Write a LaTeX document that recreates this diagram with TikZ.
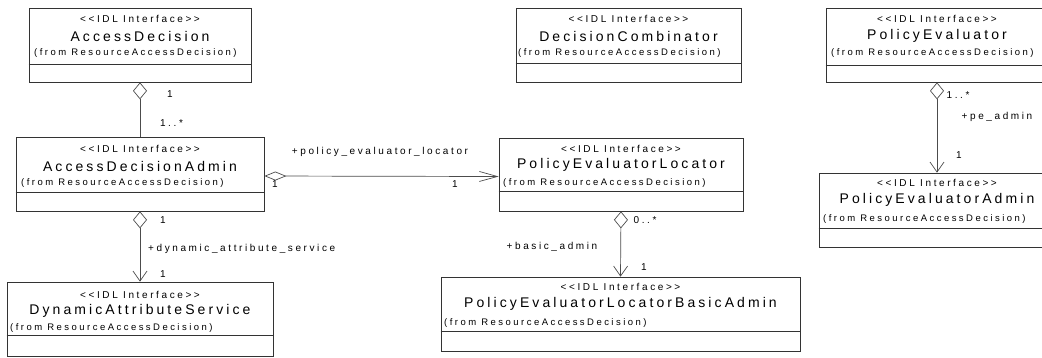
\documentclass[tikz,border=0pt]{standalone}
\usepackage{fontspec}
\newfontfamily\umlfont{Liberation Sans}[LetterSpace=26]
\newfontfamily\umlnamefont{Liberation Sans}[LetterSpace=22]
\usetikzlibrary{arrows.meta}

\tikzset{
  classbox/.style={draw=black!80, line width=0.7pt, inner sep=0pt},
  divider/.style={draw=black!80, line width=0.7pt},
  stereo/.style={inner sep=0pt, font=\umlfont\fontsize{10}{12}\selectfont},
  cname/.style={inner sep=0pt, font=\umlnamefont\fontsize{14}{16}\selectfont},
  fromtxt/.style={inner sep=0pt, anchor=west, font=\umlfont\fontsize{9.5}{11}\selectfont},
  lbl/.style={inner sep=0pt, font=\umlfont\fontsize{10}{12}\selectfont},
  aggline/.style={draw=black!70, line width=0.7pt, {Diamond[open,length=17pt,width=14pt]}-},
  aggv/.style={draw=black!70, line width=0.7pt, {Diamond[open,length=17pt,width=14pt]}-{Straight Barb[length=10pt,width=14pt]}},
  aggh/.style={draw=black!70, line width=0.7pt, {Diamond[open,length=22pt,width=9pt]}-{Straight Barb[length=18pt,width=10pt]}}
}

\begin{document}
\begin{tikzpicture}[x=1pt, y=-1pt]
  \useasboundingbox (0,0) rectangle (1042,357);
  \clip (0,0) rectangle (1042,357);

  % Top row
  \node[classbox, minimum width=222pt, minimum height=74pt] (ad) at (140,45) {};
  \draw[divider] (ad.west |- 0,64) -- (ad.east |- 0,64);
  \node[stereo] (ad-s) at (140,19) {<<IDL Interface>>};
  \node[cname] (ad-n) at (140,36) {AccessDecision};
  \node[fromtxt] (ad-f) at (34,53) {(from ResourceAccessDecision)};

  \node[classbox, minimum width=225pt, minimum height=74pt] (dc) at (628.5,45) {};
  \draw[divider] (dc.west |- 0,63) -- (dc.east |- 0,63);
  \node[stereo] (dc-s) at (628.5,19) {<<IDL Interface>>};
  \node[cname] (dc-n) at (628.5,36) {DecisionCombinator};
  \node[fromtxt] (dc-f) at (518,53) {(from ResourceAccessDecision)};

  \node[classbox, minimum width=222pt, minimum height=74pt] (pe) at (937,45) {};
  \draw[divider] (pe.west |- 0,65) -- (pe.east |- 0,65);
  \node[stereo] (pe-s) at (937,19) {<<IDL Interface>>};
  \node[cname] (pe-n) at (937,36) {PolicyEvaluator};
  \node[fromtxt] (pe-f) at (831,53) {(from ResourceAccessDecision)};

  % Middle row
  \node[classbox, minimum width=248pt, minimum height=74pt] (ada) at (140,174) {};
  \draw[divider] (ada.west |- 0,192) -- (ada.east |- 0,192);
  \node[stereo] (ada-s) at (140,149) {<<IDL Interface>>};
  \node[cname] (ada-n) at (140,166) {AccessDecisionAdmin};
  \node[fromtxt] (ada-f) at (21,183) {(from ResourceAccessDecision)};

  \node[classbox, minimum width=244pt, minimum height=73pt] (pel) at (621,174.5) {};
  \draw[divider] (pel.west |- 0,191) -- (pel.east |- 0,191);
  \node[stereo] (pel-s) at (621,149) {<<IDL Interface>>};
  \node[cname] (pel-n) at (621,165) {PolicyEvaluatorLocator};
  \node[fromtxt] (pel-f) at (503,183) {(from ResourceAccessDecision)};

  \node[classbox, minimum width=236pt, minimum height=74pt] (pea) at (937,210) {};
  \draw[divider] (pea.west |- 0,228) -- (pea.east |- 0,228);
  \node[stereo] (pea-s) at (937,183) {<<IDL Interface>>};
  \node[cname] (pea-n) at (937,200) {PolicyEvaluatorAdmin};
  \node[fromtxt] (pea-f) at (823,219) {(from ResourceAccessDecision)};

  % Bottom row
  \node[classbox, minimum width=266pt, minimum height=74pt] (das) at (140,319) {};
  \draw[divider] (das.west |- 0,335) -- (das.east |- 0,335);
  \node[stereo] (das-s) at (140,295) {<<IDL Interface>>};
  \node[cname] (das-n) at (140,311) {DynamicAttributeService};
  \node[fromtxt] (das-f) at (10,328) {(from ResourceAccessDecision)};

  \node[classbox, minimum width=359pt, minimum height=74pt] (pelba) at (620.5,314) {};
  \draw[divider] (pelba.west |- 0,331) -- (pelba.east |- 0,331);
  \node[stereo] (pelba-s) at (620.5,287) {<<IDL Interface>>};
  \node[cname] (pelba-n) at (620.5,304) {PolicyEvaluatorLocatorBasicAdmin};
  \node[fromtxt] (pelba-f) at (444,323) {(from ResourceAccessDecision)};

  % Associations
  \draw[aggline] (ad.south) -- (ada.north);
  \node[lbl] (m1) at (170,94) {1};
  \node[lbl] (m2) at (171.5,123) {1..*};

  \draw[aggh] ([yshift=-2pt]ada.east) -- ([yshift=-2pt]pel.west);
  \node[lbl] (r1) at (380,152) {+policy\_evaluator\_locator};
  \node[lbl] (m3) at (275,184) {1};
  \node[lbl] (m4) at (455,184) {1};

  \draw[aggv] (ada.south) -- (das.north);
  \node[lbl] (m5) at (163,220) {1};
  \node[lbl, anchor=west] (r2) at (148,249) {+dynamic\_attribute\_service};
  \node[lbl] (m6) at (163,274) {1};

  \draw[aggv] (pel.south) -- (pelba.north);
  \node[lbl] (m7) at (645,220) {0..*};
  \node[lbl] (r3) at (552,247) {+basic\_admin};
  \node[lbl] (m8) at (644,267) {1};

  \draw[aggv] (pe.south) -- (pea.north);
  \node[lbl] (m9) at (958,95) {1..*};
  \node[lbl] (r4) at (997,117) {+pe\_admin};
  \node[lbl] (m10) at (959,155) {1};
\end{tikzpicture}
\end{document}
